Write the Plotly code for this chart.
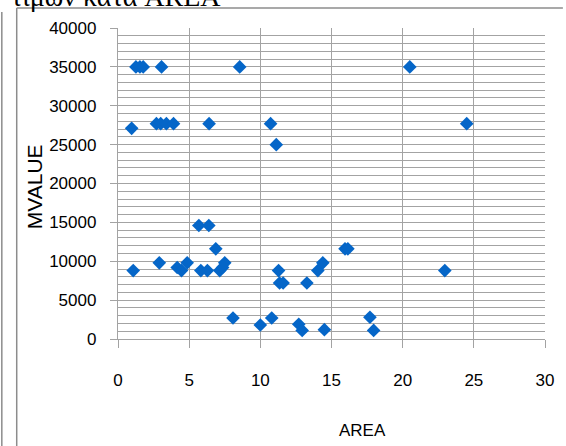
import plotly.graph_objects as go

area = [0.96, 1.07, 1.26, 1.54, 1.77, 3.06, 8.55, 20.5,
        2.7, 3.0, 3.4, 3.9, 6.4, 10.72, 24.5, 11.12,
        5.68, 6.38, 6.87, 15.95, 16.15,
        2.9, 4.16, 4.46, 4.86, 5.82, 6.28, 7.15, 7.35, 7.5,
        14.04, 14.39, 22.96, 11.28, 11.35, 11.6, 13.27,
        8.08, 10.8, 17.7, 10.0, 12.7, 12.94, 14.5, 17.96]
mvalue = [27100, 8800, 35000, 35000, 35000, 35000, 35000, 35000,
          27700, 27700, 27700, 27700, 27700, 27700, 27700, 25000,
          14600, 14600, 11600, 11600, 11600,
          9800, 9200, 8800, 9800, 8800, 8800, 8800, 9200, 9800,
          8800, 9800, 8800, 8800, 7200, 7200, 7200,
          2700, 2700, 2800, 1800, 1900, 1100, 1200, 1100]

x_ticks = [0, 5, 10, 15, 20, 25, 30]
y_ticks = [0, 5000, 10000, 15000, 20000, 25000, 30000, 35000, 40000]

FONT = "Liberation Sans Narrow, Arial Narrow, Liberation Sans, sans-serif"
GRID = "#a3a3a3"

fig = go.Figure(go.Scatter(
    x=area, y=mvalue, mode="markers",
    marker=dict(symbol="diamond", size=10.5, color="#0566C8", line=dict(width=0)),
))

fig.update_layout(
    width=566, height=446,
    margin=dict(l=118, r=18, t=28, b=107),
    paper_bgcolor="white", plot_bgcolor="white",
    showlegend=False,
    font=dict(family=FONT, size=17, color="black"),
    xaxis=dict(range=[0, 30], tickvals=x_ticks, ticktext=[str(v) for v in x_ticks],
               showgrid=True, gridcolor=GRID, gridwidth=1.3,
               showline=True, linecolor=GRID, linewidth=1.3,
               ticks="outside", ticklen=8, tickcolor=GRID, tickwidth=1.3,
               ticklabelstandoff=17, zeroline=False, fixedrange=True),
    yaxis=dict(range=[0, 40000], tickvals=y_ticks, ticktext=[str(v) for v in y_ticks],
               showgrid=True, gridcolor=GRID, gridwidth=1.3,
               minor=dict(dtick=1000, showgrid=True, gridcolor=GRID, gridwidth=1.3),
               showline=True, linecolor=GRID, linewidth=1.3,
               ticks="outside", ticklen=7, tickcolor=GRID, tickwidth=1.3,
               ticklabelstandoff=10, zeroline=False, fixedrange=True),
    annotations=[
        dict(text="AREA", xref="paper", yref="paper", x=(364 - 118) / 430, y=(339 - 430) / 311,
             xanchor="center", yanchor="middle", showarrow=False,
             font=dict(family=FONT, size=17)),
        dict(text="MVALUE", xref="paper", yref="paper", x=(34 - 118) / 430, y=0.49,
             xanchor="center", yanchor="middle", textangle=-90, showarrow=False,
             font=dict(family=FONT, size=21)),
        dict(text="τιμων κατα AREA", xref="paper", yref="paper", x=(8 - 118) / 430,
             y=1 + (28 - 6) / 311, xanchor="left", yanchor="bottom", showarrow=False,
             yshift=-8,
             font=dict(family="Liberation Serif, Times New Roman, serif", size=28)),
    ],
    shapes=[
        dict(type="line", xref="paper", yref="paper", x0=(1 - 118) / 430, x1=(1 - 118) / 430,
             y0=(339 - 446) / 311, y1=(339 - 12) / 311, line=dict(color="#8c8c8c", width=1.5)),
        dict(type="line", xref="paper", yref="paper", x0=(16 - 118) / 430, x1=(16 - 118) / 430,
             y0=(339 - 446) / 311, y1=(339 - 8) / 311, line=dict(color="#8c8c8c", width=1.5)),
        dict(type="line", xref="paper", yref="paper", x0=(16 - 118) / 430, x1=(566 - 118) / 430,
             y0=(339 - 8) / 311, y1=(339 - 8) / 311, line=dict(color="#8c8c8c", width=1.5)),
    ],
)

fig.write_html("out.html", config={"displayModeBar": False},
               post_script="document.body.style.margin='0';document.body.style.overflow='hidden';")
